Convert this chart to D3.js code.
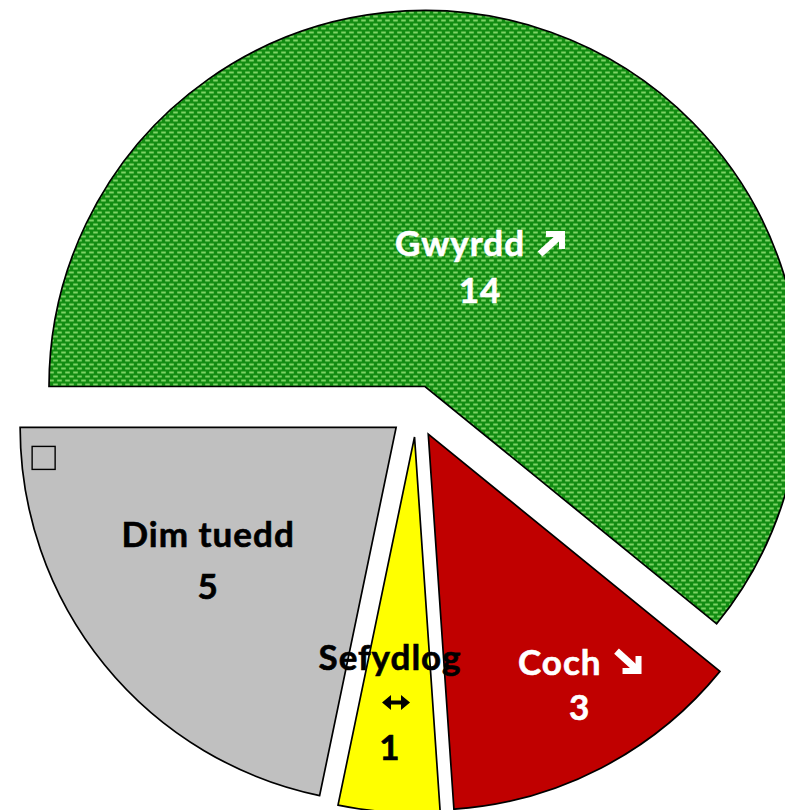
<!DOCTYPE html>
<html>
<head>
<meta charset="utf-8">
<script src="https://cdn.jsdelivr.net/npm/d3@7"></script>
<style>
  html, body { margin: 0; padding: 0; background: #fff; overflow: hidden; }
  svg { display: block; }
</style>
</head>
<body>
<svg id="chart" width="785" height="810"></svg>
<script>
// ---- data ----
const categories = ["Gwyrdd", "Coch", "Sefydlog", "Dim tuedd"];
const values = [14, 3, 1, 5];
const trendArrows = ["up", "down", "both", "none"];
const fills = ["url(#greenPattern)", "#C00000", "#FFFF00", "#C0C0C0"];
const textColors = ["#ffffff", "#ffffff", "#000000", "#000000"];

// ---- layout ----
const W = 785, H = 810;
const cx = 416.3, cy = 411, R = 376, explode = 26;
// label anchor (centre x, first baseline) relative to each slice's apex, and line gap
const labelOffset = [[55, -130.5], [151.5, 241], [-24.5, 233], [-188, 119.5]];
const lineGap = [47, 45, 90, 52];
const fs = 35;
const fontFamily = "Lato, 'Open Sans', sans-serif";

const svg = d3.select("#chart");
const defs = svg.append("defs");
const pat = defs.append("pattern")
  .attr("id", "greenPattern")
  .attr("patternUnits", "userSpaceOnUse")
  .attr("width", 8).attr("height", 8);
pat.append("rect").attr("width", 8).attr("height", 8).attr("fill", "#128C12");
[[0, 1], [4, 5], [-4, 5]].forEach(([x, y]) => {
  pat.append("rect").attr("x", x).attr("y", y).attr("width", 5).attr("height", 2).attr("fill", "#66C654");
  pat.append("rect").attr("x", x + 1).attr("y", y + 0.5).attr("width", 3).attr("height", 1).attr("fill", "#95E07A");
});

const data = categories.map((c, i) => ({ name: c, value: values[i], arrow: trendArrows[i], fill: fills[i], tc: textColors[i], i }));

const pie = d3.pie().sort(null).value(d => d.value)
  .startAngle(-Math.PI / 2).endAngle(1.5 * Math.PI);
const arcs = pie(data);
const arc = d3.arc().innerRadius(0).outerRadius(R);

const g = svg.append("g").attr("transform", `translate(${cx},${cy})`);
const offsetOf = d => {
  const a = (d.startAngle + d.endAngle) / 2;
  return [explode * Math.sin(a), -explode * Math.cos(a)];
};

// slices
g.append("g").selectAll("path").data(arcs).join("path")
  .attr("transform", d => `translate(${offsetOf(d)})`)
  .attr("d", arc)
  .attr("fill", d => d.data.fill)
  .attr("stroke", "#000")
  .attr("stroke-width", 1.7)
  .attr("stroke-linejoin", "miter");

function addText(sel, x, y, txt, col) {
  return sel.append("text")
    .attr("x", x).attr("y", y)
    .attr("text-anchor", "middle")
    .attr("font-family", fontFamily).attr("font-weight", "bold")
    .attr("font-size", fs).attr("letter-spacing", 1)
    .attr("fill", col)
    .attr("stroke", col).attr("stroke-width", 0.6)
    .text(txt);
}

function diagArrow(sel, x0, y0, dir, col) {
  const w = 27, h = 24, t = 6;
  if (dir === "up") {
    sel.append("polyline")
      .attr("points", `${x0 + 8},${y0 + t/2} ${x0 + w - t/2},${y0 + t/2} ${x0 + w - t/2},${y0 + h - 6}`)
      .attr("fill", "none").attr("stroke", col).attr("stroke-width", t).attr("stroke-linejoin", "miter");
    sel.append("line")
      .attr("x1", x0 + 2).attr("y1", y0 + h - 1).attr("x2", x0 + w - 4).attr("y2", y0 + 4)
      .attr("stroke", col).attr("stroke-width", t + 1);
  } else {
    sel.append("polyline")
      .attr("points", `${x0 + 8},${y0 + h - t/2} ${x0 + w - t/2},${y0 + h - t/2} ${x0 + w - t/2},${y0 + 6}`)
      .attr("fill", "none").attr("stroke", col).attr("stroke-width", t).attr("stroke-linejoin", "miter");
    sel.append("line")
      .attr("x1", x0 + 2).attr("y1", y0 + 1).attr("x2", x0 + w - 4).attr("y2", y0 + h - 4)
      .attr("stroke", col).attr("stroke-width", t + 1);
  }
}

// labels (drawn above all slices)
const labels = g.append("g").selectAll("g").data(arcs).join("g")
  .attr("transform", d => `translate(${offsetOf(d)})`);

labels.each(function(d) {
  const sel = d3.select(this);
  const i = d.data.i;
  const [ox, oy] = labelOffset[i];
  const lg = sel.append("g").attr("transform", `translate(${ox},${oy})`);
  const col = d.data.tc;
  if (d.data.arrow === "up" || d.data.arrow === "down") {
    const t = addText(lg, 0, 0, d.data.name, col).attr("text-anchor", "start");
    const tw = t.node().getComputedTextLength();
    const gap = 13, aw = 27;
    const total = tw + gap + aw;
    t.attr("x", -total / 2);
    diagArrow(lg, -total / 2 + tw + gap, -25, d.data.arrow, col);
    addText(lg, 0, lineGap[i], d.data.value, col);
  } else if (d.data.arrow === "both") {
    addText(lg, 0, 0, d.data.name, col);
    const ax = 6, ay = 32.5;
    lg.append("path")
      .attr("d", `M${ax-14},${ay} L${ax-5},${ay-7.5} L${ax-5},${ay-2} L${ax+5},${ay-2} L${ax+5},${ay-7.5} L${ax+14},${ay} L${ax+5},${ay+7.5} L${ax+5},${ay+2} L${ax-5},${ay+2} L${ax-5},${ay+7.5} Z`)
      .attr("fill", col);
    addText(lg, 0, lineGap[i], d.data.value, col);
  } else {
    addText(lg, 0, 0, d.data.name, col);
    addText(lg, 0, lineGap[i], d.data.value, col);
    // empty marker box near the outer corner of the slice's left edge
    const a1 = d.endAngle;
    const bx = (R - 12) * Math.sin(a1), by = -(R - 12) * Math.cos(a1);
    sel.append("rect")
      .attr("x", bx).attr("y", by + 19)
      .attr("width", 23).attr("height", 23)
      .attr("fill", "none").attr("stroke", "#000").attr("stroke-width", 1.4);
  }
});
</script>
</body>
</html>
